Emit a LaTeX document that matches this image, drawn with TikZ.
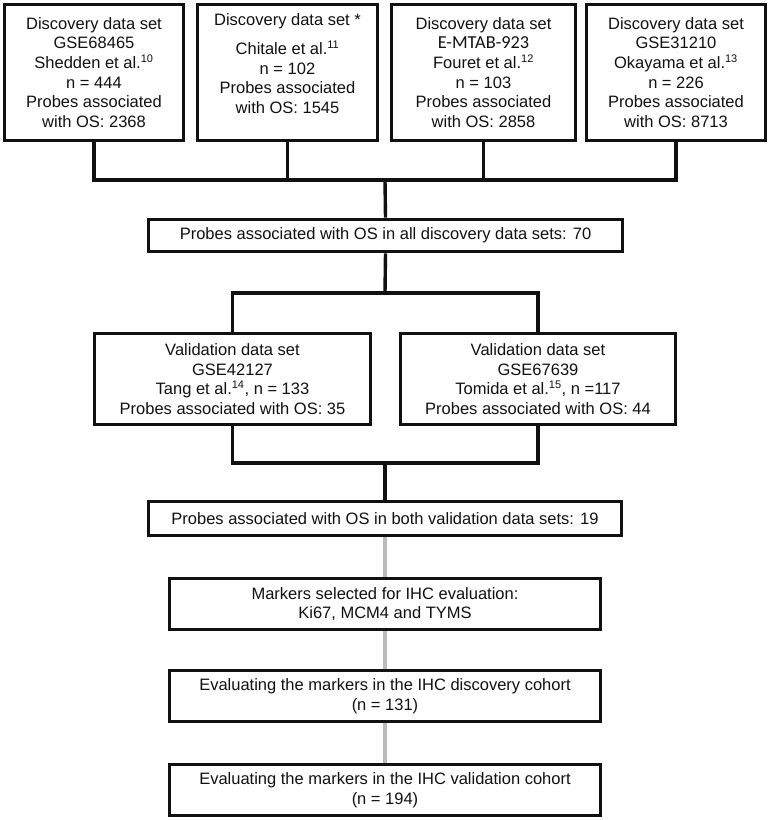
\documentclass[tikz,border=0pt]{standalone}
\usepackage{fontspec}
\setmainfont{Liberation Sans}
\newfontfamily\idfont{Carlito}
\usetikzlibrary{positioning,calc}
\definecolor{ink}{HTML}{111111}
\definecolor{softlink}{HTML}{BBBBBB}
\tikzset{
  % ---- boxes -----------------------------------------------------
  flowbox/.style   = {rectangle, draw=ink, line width=3.8pt, fill=white,
                      inner sep=0pt, align=center, text=ink,
                      font=\fontsize{16.5}{19.7}\selectfont},
  topbox/.style    = {flowbox, minimum height=136pt},
  wideline/.style  = {flowbox, minimum height=32pt},
  valbox/.style    = {flowbox, minimum height=91pt},
  ihcbox/.style    = {flowbox, minimum width=431pt, minimum height=51pt},
  % ---- connectors ------------------------------------------------
  link/.style      = {draw=ink, line width=3.4pt},
  softline/.style  = {draw=softlink, line width=3.2pt},
}
\newcommand{\refno}[1]{\textsuperscript{\fontsize{11}{11}\selectfont #1}}
\begin{document}
\begin{tikzpicture}[x=1pt,y=-1pt]
  \useasboundingbox (0,0) rectangle (772,820);
  % discovery data sets
  \node[topbox, minimum width=179pt] (d1) at (94,72.5)
    {Discovery data set\\GSE68465\\Shedden et al.\refno{10}\\n = 444\\Probes associated\\with OS: 2368};
  \node[topbox, minimum width=180pt] (d2) at (287.5,72.5)
    {Discovery data set *\\[9pt]Chitale et al.\refno{11}\\n = 102\\Probes associated\\with OS: 1545\\[-2pt]\mbox{}};
  \node[topbox, minimum width=184pt] (d3) at (483.5,72.5)
    {Discovery data set\\{\idfont\fontsize{18.3}{19.7}\selectfont E-MTAB-923}\\Fouret et al.\refno{12}\\n = 103\\Probes associated\\with OS: 2858};
  \node[topbox, minimum width=179pt] (d4) at (676,72.5)
    {Discovery data set\\GSE31210\\Okayama et al.\refno{13}\\n = 226\\Probes associated\\with OS: 8713};
  \node[wideline, minimum width=474pt] (all70) at (385.5,235.5)
    {Probes associated with OS in all discovery data sets: 70};
  % validation data sets
  \node[valbox, minimum width=276pt] (valA) at (232.5,379)
    {Validation data set\\GSE42127\\Tang et al.\refno{14}, n = 133\\Probes associated with OS: 35};
  \node[valbox, minimum width=275pt] (valB) at (538,379)
    {Validation data set\\GSE67639\\Tomida et al.\refno{15}, n =117\\Probes associated with OS: 44};
  \node[wideline, minimum width=473pt, minimum height=34pt] (both) at (385,518.5)
    {Probes associated with OS in both validation data sets: 19};
  % IHC steps
  \node[ihcbox] (markers) at (385,604)
    {Markers selected for IHC evaluation:\\Ki67, MCM4 and TYMS};
  \node[ihcbox] (ihcdisc) at (385,696)
    {Evaluating the markers in the IHC discovery cohort\\(n = 131)};
  \node[ihcbox] (ihcval) at (385,790)
    {Evaluating the markers in the IHC validation cohort\\(n = 194)};
  % junctions
  \coordinate (jdisc) at (385,180);
  \coordinate (jval) at (385,293);
  \coordinate (jboth) at (385,463);
  \draw[link] (d1.south) |- (jdisc);
  \draw[link] (d2.south) |- (jdisc);
  \draw[link] (d3.south) |- (jdisc);
  \draw[link] (d4.south) |- (jdisc);
  \draw[link] (jdisc) -- (all70.north);
  \draw[link] (all70.south) -- (jval);
  \draw[link] (jval) -| (valA.north);
  \draw[link] (jval) -| (valB.north);
  \draw[link] (valA.south) |- (jboth);
  \draw[link] (valB.south) |- (jboth);
  \draw[link] (jboth) -- (both.north);
  \draw[softline] (both.south) -- (markers.north);
  \draw[softline] (markers.south) -- (ihcdisc.north);
  \draw[softline] (ihcdisc.south) -- (ihcval.north);
\end{tikzpicture}
\end{document}
